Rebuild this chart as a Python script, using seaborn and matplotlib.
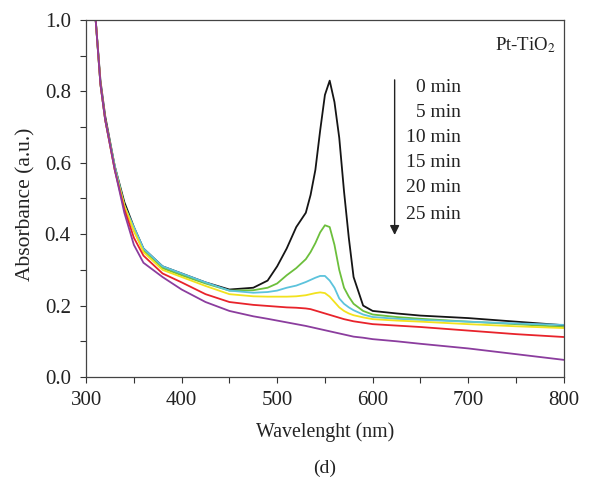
import numpy as np
import pandas as pd
import matplotlib
matplotlib.use("Agg")
import matplotlib.pyplot as plt
from matplotlib.ticker import MultipleLocator
import seaborn as sns

sns.set_style("ticks")
plt.rcParams['font.family'] = ['Liberation Serif', 'DejaVu Serif']
plt.rcParams['mathtext.fontset'] = 'stix'

# UV-vis spectra
wavelength = [310, 315, 320, 330, 340, 350, 360, 380, 400, 425, 450, 475, 490, 500,
              510, 520, 530, 535, 540, 545, 550, 555, 560, 565, 570, 575, 580, 590,
              600, 625, 650, 700, 750, 800]

abs_0 = [1.00, 0.83, 0.73, 0.59, 0.49, 0.42, 0.36, 0.31, 0.29, 0.265, 0.245, 0.25, 0.27, 0.31,
         0.36, 0.42, 0.46, 0.51, 0.58, 0.69, 0.79, 0.83, 0.77, 0.67, 0.52, 0.39, 0.28, 0.20,
         0.185, 0.178, 0.172, 0.165, 0.155, 0.145]
abs_5 = [1.00, 0.82, 0.72, 0.59, 0.48, 0.41, 0.355, 0.305, 0.285, 0.262, 0.242, 0.243, 0.25, 0.262,
         0.285, 0.305, 0.33, 0.35, 0.375, 0.405, 0.425, 0.42, 0.37, 0.30, 0.25, 0.225, 0.205, 0.185,
         0.175, 0.168, 0.163, 0.155, 0.148, 0.14]
abs_10 = [1.00, 0.82, 0.72, 0.59, 0.48, 0.42, 0.36, 0.31, 0.29, 0.265, 0.242, 0.236, 0.238, 0.242,
          0.25, 0.256, 0.266, 0.272, 0.278, 0.283, 0.283, 0.27, 0.25, 0.22, 0.205, 0.195, 0.187, 0.175,
          0.168, 0.163, 0.16, 0.155, 0.15, 0.146]
abs_15 = [1.00, 0.82, 0.72, 0.58, 0.48, 0.41, 0.35, 0.30, 0.28, 0.255, 0.232, 0.226, 0.225, 0.225,
          0.225, 0.226, 0.229, 0.232, 0.235, 0.237, 0.235, 0.225, 0.21, 0.195, 0.185, 0.178, 0.173, 0.167,
          0.162, 0.158, 0.155, 0.148, 0.142, 0.137]
abs_20 = [1.00, 0.82, 0.72, 0.58, 0.47, 0.39, 0.34, 0.29, 0.265, 0.232, 0.21, 0.202, 0.199, 0.197,
          0.195, 0.194, 0.192, 0.19, 0.186, 0.182, 0.178, 0.174, 0.17, 0.166, 0.162, 0.159, 0.156, 0.152,
          0.148, 0.144, 0.14, 0.13, 0.12, 0.112]
abs_25 = [1.00, 0.82, 0.72, 0.58, 0.46, 0.37, 0.32, 0.28, 0.245, 0.21, 0.185, 0.17, 0.163, 0.158,
          0.153, 0.148, 0.143, 0.14, 0.137, 0.134, 0.131, 0.128, 0.125, 0.122, 0.119, 0.116, 0.113, 0.11,
          0.106, 0.10, 0.093, 0.08, 0.064, 0.048]

times = ['0 min', '5 min', '10 min', '15 min', '20 min', '25 min']
series = [abs_0, abs_5, abs_10, abs_15, abs_20, abs_25]
colors = ['#151515', '#6cbf3c', '#5cc3dc', '#f2e21e', '#e8232b', '#8b3d9e']

df = pd.concat([pd.DataFrame({'wl': wavelength, 'A': s, 't': t}) for s, t in zip(series, times)])

fig = plt.figure(figsize=(5.94, 4.80), dpi=100)
ax = fig.add_axes([0.145, 0.2146, 0.804, 0.7438])

sns.lineplot(data=df, x='wl', y='A', hue='t', palette=colors, hue_order=times,
             linewidth=1.3, legend=False, ax=ax, sort=False)

ax.set_xlim(300, 800)
ax.set_ylim(0, 1.0)
ax.xaxis.set_major_locator(MultipleLocator(100))
ax.xaxis.set_minor_locator(MultipleLocator(50))
ax.yaxis.set_major_locator(MultipleLocator(0.2))
ax.yaxis.set_minor_locator(MultipleLocator(0.1))
ax.yaxis.set_major_formatter(matplotlib.ticker.FormatStrFormatter('%.1f'))
ax.tick_params(which='both', direction='out', length=4.5, width=0.8, colors='#333333',
               labelsize=15, labelcolor='#222222')
ax.tick_params(axis='y', pad=6.5)
ax.tick_params(axis='x', pad=5.5)
for sp in ax.spines.values():
    sp.set_color('#444444')
    sp.set_linewidth(0.9)

ax.set_xlabel('Wavelenght (nm)', fontsize=14.3, color='#222222', labelpad=9)
ax.set_ylabel('Absorbance (a.u.)', fontsize=15.5, color='#222222')
ax.yaxis.set_label_coords(-0.107, 0.485)

# time arrow and labels
ax.annotate('', xy=(623, 0.39), xytext=(623, 0.84),
            arrowprops=dict(arrowstyle='-|>', color='#222222', lw=1.0, mutation_scale=14))
label_y = [0.81, 0.74, 0.67, 0.60, 0.53, 0.455]
for t, yy in zip(times, label_y):
    ax.text(692, yy, t, ha='right', va='center', fontsize=14, color='#222222')
ax.text(792, 0.93, 'Pt-TiO$_2$', ha='right', va='center', fontsize=13.5, color='#222222')

fig.text(0.546, 0.025, '(d)', ha='center', va='center', fontsize=14, color='#222222')

fig.savefig('out.png', dpi=100)
